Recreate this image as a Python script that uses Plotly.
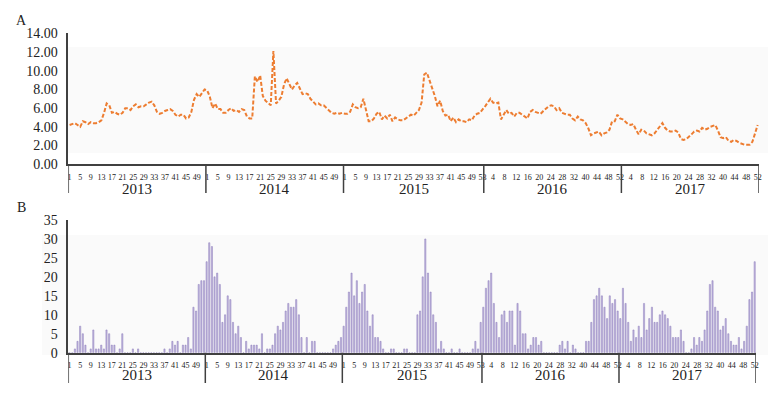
import plotly.graph_objects as go

years = ["2013", "2014", "2015", "2016", "2017"]
weeks_per_year = [52, 52, 53, 52, 52]

line_2013 = [4.2,4.3,4.4,4.2,4.0,4.6,4.5,4.3,4.5,4.4, 4.4,4.5,4.7,5.5,6.5,6.3,5.5,5.6,5.4,5.3,
             5.5,6.0,6.0,5.8,6.2,6.4,6.1,6.2,6.2,6.4, 6.6,6.7,6.3,5.6,5.4,5.5,5.7,5.8,5.9,5.7,
             5.3,5.1,5.3,5.3,4.9,5.0,5.6,6.9,7.5,7.2, 7.6,8.0]
line_2014 = [7.9,7.2,6.0,6.5,5.9,5.9,5.5,5.5,5.8,6.0, 5.7,5.8,5.6,5.9,5.8,5.1,4.9,4.9,9.4,8.8,
             9.5,7.3,6.8,6.5,6.3,12.1,6.5,6.8,7.2,8.5, 9.2,8.6,8.0,8.4,8.7,8.1,7.5,7.6,7.5,7.0,
             6.7,6.4,6.5,6.3,6.3,6.0,5.7,5.5,5.4,5.5, 5.4,5.5]
line_2015 = [5.4,5.4,5.6,6.4,6.1,6.0,6.1,7.0,5.8,4.6, 4.6,4.9,5.4,5.6,4.8,5.2,4.9,5.3,4.6,5.0,
             4.8,4.7,4.7,4.9,5.1,5.3,5.2,5.5,5.8,6.6, 9.6,9.8,9.0,8.0,7.3,6.2,6.8,5.7,5.2,5.3,
             4.6,5.0,4.5,4.8,4.6,4.6,4.5,4.8,4.7,5.2, 5.4,5.5,5.8]
line_2016 = [6.2,6.6,7.0,6.6,6.5,6.6,4.8,5.3,5.8,5.4, 5.5,5.1,5.5,5.5,5.3,5.1,4.9,5.6,5.8,5.6,
             5.5,5.4,5.7,6.0,6.2,6.3,6.2,5.8,6.0,5.5, 5.4,5.3,5.3,4.9,4.7,5.1,4.8,4.7,4.4,3.85,
             3.1,3.3,3.4,3.5,3.1,3.3,3.4,3.7,4.6,4.6, 5.3,4.9]
line_2017 = [4.8,4.5,4.3,4.2,4.3,3.7,3.2,3.7,3.6,3.3, 3.2,3.1,3.3,3.7,4.1,4.4,3.9,3.6,3.5,3.5,
             3.6,3.4,2.7,2.6,2.7,2.9,3.2,3.5,3.6,3.5, 3.9,3.7,3.8,4.0,4.1,4.2,3.6,2.9,2.8,2.9,
             2.5,2.4,2.6,2.5,2.3,2.2,2.1,2.1,2.1,2.4, 3.3,4.2]

bar_2013 = [0,0,1,3,7,5,2,0,1,6, 1,1,2,1,6,5,2,2,0,1, 5,0,0,0,1,0,1,0,0,0,
            0,0,0,0,0,0,1,0,1,3, 2,3,0,2,2,4,1,12,11,18, 19,19]
bar_2014 = [24,29,28,20,21,18,8,10,15,14, 8,5,7,4,0,3,1,2,2,2, 1,5,0,1,1,2,5,7,6,8,
            11,13,12,12,14,10,4,0,4,0, 3,3,0,0,0,0,0,0,1,2, 3,4]
bar_2015 = [7,12,16,21,15,19,13,16,18,11, 7,10,4,4,3,1,0,0,1,1, 0,0,0,1,1,0,0,0,10,11,
            20,30,21,16,10,8,1,3,1,0, 0,1,0,0,1,0,0,0,0,1, 3,1,8]
bar_2016 = [12,17,19,21,13,8,4,10,11,8, 11,11,2,13,11,5,5,1,2,4, 4,2,3,0,0,0,0,0,0,2,
            3,1,3,0,2,1,0,0,0,3, 3,8,14,15,17,15,12,9,15,13, 14,11]
bar_2017 = [9,17,13,8,3,6,4,7,4,13, 6,9,12,8,8,10,11,10,9,7, 4,4,4,6,3,0,0,1,4,2,
            4,3,6,11,18,19,12,11,6,7, 9,5,3,2,2,4,1,3,7,14, 16,24]

week_labels = [
    ["1","5","9","13","17","21","25","29","33","37","41","45","49"],
    ["1","5","9","13","17","21","25","29","33","37","41","45","49"],
    ["1","5","9","13","17","21","25","29","33","37","41","45","49","53"],
    ["4","8","12","16","20","24","28","32","40","44","48","52"],
    ["4","8","12","16","20","24","28","32","40","44","48","52"],
]

line_vals = line_2013 + line_2014 + line_2015 + line_2016 + line_2017
bar_vals = bar_2013 + bar_2014 + bar_2015 + bar_2016 + bar_2017
n = len(line_vals)
xs = list(range(n))

offsets = []
o = 0
for w in weeks_per_year:
    offsets.append(o)
    o += w

tickvals, ticktext = [], []
for yi, labs in enumerate(week_labels):
    off = offsets[yi]
    if yi < 3:
        for t in labs:
            tickvals.append(off + int(t) - 1)
            ticktext.append(t)
    else:
        m = len(labs)
        for j, t in enumerate(labs):
            pos = 4 + j * (52 - 4) / (m - 1)
            tickvals.append(off + pos - 1)
            ticktext.append(t)

W, H = 783, 397
def py(p):
    return 1 - p / H

top_dom = [py(164.3), py(33.3)]
bot_dom = [py(352.7), py(220.0)]
xdom_top = [68.3 / W, 759 / W]
xdom_bot = [68.3 / W, 756 / W]

serif = "Liberation Serif, Times New Roman, serif"
axis_col = "#404040"

fig = go.Figure()
fig.add_trace(go.Scatter(x=xs, y=line_vals, mode="lines",
                         line=dict(color="#ED7D31", width=2, dash="4px,2px"),
                         xaxis="x", yaxis="y", showlegend=False))
fig.add_trace(go.Bar(x=xs, y=bar_vals, marker=dict(color="#c2b8de", line=dict(color="#8b7bbb", width=0.5)),
                     xaxis="x2", yaxis="y2", showlegend=False))

xcommon = dict(range=[-0.5, n - 0.5], tickmode="array", tickvals=tickvals, ticktext=ticktext,
               tickfont=dict(family=serif, size=8, color="#222"), showgrid=False, zeroline=False,
               showline=True, linecolor=axis_col, linewidth=2, ticks="", ticklabelstandoff=4,
               tickangle=0, automargin=False)
ycommon = dict(tickfont=dict(family=serif, size=14, color="#222"), showgrid=False, zeroline=False,
               showline=True, linecolor=axis_col, linewidth=1.5, ticks="", ticklabelstandoff=6,
               automargin=False)
fig.update_layout(
    template="none",
    width=W, height=H, margin=dict(l=0, r=0, t=0, b=0, autoexpand=False),
    paper_bgcolor="white", plot_bgcolor="rgba(0,0,0,0)",
    bargap=0.55,
    xaxis=dict(domain=xdom_top, anchor="y", **xcommon),
    xaxis2=dict(domain=xdom_bot, anchor="y2", **xcommon),
    yaxis=dict(domain=top_dom, anchor="x", range=[0, 14], dtick=2, tickformat=".2f", **ycommon),
    yaxis2=dict(domain=bot_dom, anchor="x2", range=[0, 35], dtick=5, **ycommon),
)

shapes = []
shapes.append(dict(type="rect", xref="paper", yref="paper", x0=68 / W, x1=768 / W, y0=py(153), y1=py(47),
                   fillcolor="#fafafa", line=dict(width=0), layer="below"))
shapes.append(dict(type="rect", xref="paper", yref="paper", x0=42 / W, x1=768 / W, y0=py(355), y1=py(235),
                   fillcolor="#fafafa", line=dict(width=0), layer="below"))
bounds = offsets + [n]
for b in bounds:
    shapes.append(dict(type="line", xref="x", yref="paper", x0=b - 0.5, x1=b - 0.5,
                       y0=top_dom[0], y1=py(193), line=dict(color=axis_col, width=1.5)))
    shapes.append(dict(type="line", xref="x2", yref="paper", x0=b - 0.5, x1=b - 0.5,
                       y0=bot_dom[0], y1=py(383), line=dict(color=axis_col, width=1.5)))
fig.update_layout(shapes=shapes)

ann = []
for yi, yr in enumerate(years):
    c = offsets[yi] + (weeks_per_year[yi] - 1) / 2
    ann.append(dict(x=c, y=py(189), xref="x", yref="paper", text=yr, showarrow=False,
                    font=dict(family=serif, size=15, color="#222"), xanchor="center", yanchor="middle"))
    ann.append(dict(x=c, y=py(375), xref="x2", yref="paper", text=yr, showarrow=False,
                    font=dict(family=serif, size=15, color="#222"), xanchor="center", yanchor="middle"))
ann.append(dict(x=21 / W, y=py(20), xref="paper", yref="paper", text="A", showarrow=False,
                font=dict(family=serif, size=14, color="#222"), xanchor="center", yanchor="middle"))
ann.append(dict(x=21 / W, y=py(207), xref="paper", yref="paper", text="B", showarrow=False,
                font=dict(family=serif, size=14, color="#222"), xanchor="center", yanchor="middle"))
fig.update_layout(annotations=ann)

fig.write_html("out.html", config={"displayModeBar": False},
               post_script="document.body.style.margin='0';document.body.style.overflow='hidden';")
